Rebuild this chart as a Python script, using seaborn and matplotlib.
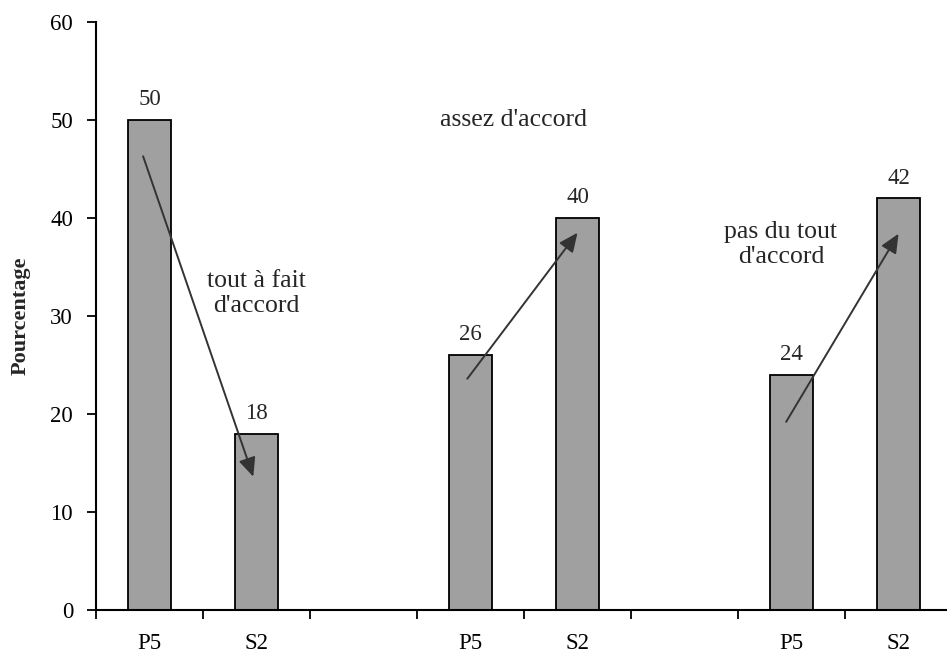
import matplotlib
matplotlib.use("Agg")
import matplotlib.pyplot as plt
import seaborn as sns
import pandas as pd

# Opinion groups and the two cohorts compared within each group
groups = ["tout à fait\nd'accord", "assez d'accord", "pas du tout\nd'accord"]
cohorts = ["P5", "S2"]
p5_values = [50, 26, 24]
s2_values = [18, 40, 42]

sns.set_theme(style="ticks")
plt.rcParams["font.family"] = ["Liberation Serif", "DejaVu Serif"]

# Each group takes three slots: P5, S2, then an empty spacer slot
rows = []
for i, (p, s) in enumerate(zip(p5_values, s2_values)):
    rows.append({"pos": 3 * i, "cohort": "P5", "pct": p})
    rows.append({"pos": 3 * i + 1, "cohort": "S2", "pct": s})
df = pd.DataFrame(rows)

fig = plt.figure(figsize=(9.47, 6.54), dpi=100)
ax = fig.add_axes([0.1014, 0.0673, 0.9039, 0.899])

sns.barplot(data=df, x="pos", y="pct", native_scale=True, width=0.4,
            color="#a0a0a0", saturation=1, edgecolor="black",
            linewidth=1.3, errorbar=None, ax=ax)

# Value labels above bars
for container in ax.containers:
    ax.bar_label(container, labels=[f"{v:g}" for v in container.datavalues],
                 padding=7, fontsize=16.5)

ax.set_xlim(-0.5, 7.5)
ax.set_ylim(0, 60)
ax.set_yticks(range(0, 61, 10))
ax.tick_params(axis="y", length=6.5, width=1.3, pad=10, labelsize=16.5,
               colors="black")

# Cohort names centred under bars, tick marks on slot boundaries
ax.set_xticks(df["pos"].tolist())
ax.set_xticklabels(df["cohort"].tolist(), fontsize=16.5)
ax.tick_params(axis="x", which="major", length=0, pad=16.5, colors="black")
ax.set_xticks([b - 0.5 for b in range(8)], minor=True)
ax.tick_params(axis="x", which="minor", length=6.5, width=1.3,
               colors="black")

ax.set_xlabel("")
ax.set_ylabel("Pourcentage", fontsize=16, fontweight="bold", labelpad=14)

for side in ("top", "right"):
    ax.spines[side].set_visible(False)
for side in ("left", "bottom"):
    ax.spines[side].set_linewidth(1.5)
    ax.spines[side].set_color("black")

# Trend arrows from P5 to S2 in each group
arrows = [
    ((-0.06, 46.3), (0.97, 13.6)),
    ((2.97, 23.6), (4.0, 38.5)),
    ((5.95, 19.2), (7.0, 38.4)),
]
for start, tip in arrows:
    ax.annotate("", xy=tip, xytext=start,
                arrowprops=dict(arrowstyle="-|>,head_length=1.0,head_width=0.45",
                                mutation_scale=11.5, color="#333333", lw=1.4,
                                shrinkA=0, shrinkB=0))

# Group names
group_text_pos = [(1.0, 32.3), (3.4, 50.0), (5.9, 37.3)]
for label, (gx, gy) in zip(groups, group_text_pos):
    ax.text(gx, gy, label, ha="center", va="center", fontsize=18.5,
            linespacing=1.2)

fig.savefig("out.png", dpi=100)
